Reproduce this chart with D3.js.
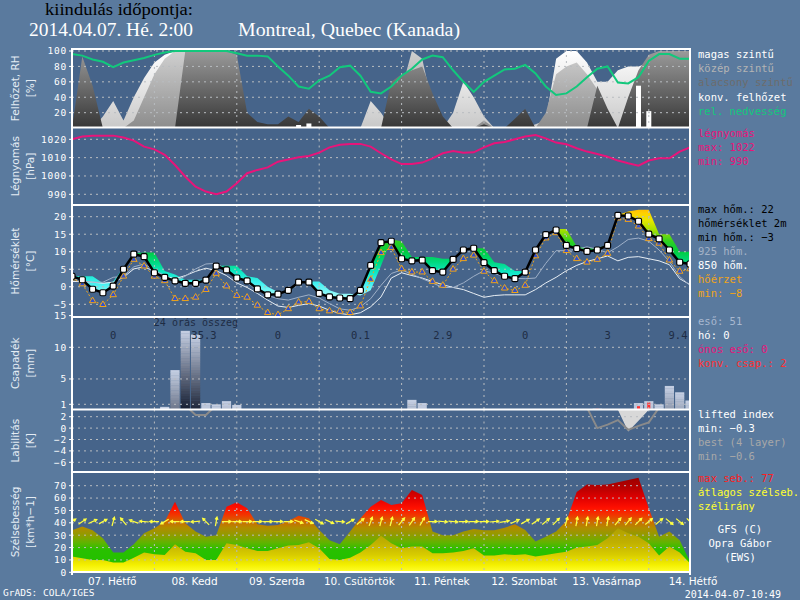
<!DOCTYPE html>
<html>
<head>
<meta charset="utf-8">
<script src="https://cdn.jsdelivr.net/npm/d3@7"></script>
<style>
  body { margin: 0; background: #5a7a9e; }
  svg { display: block; }
</style>
</head>
<body>
<svg id="chart" width="800" height="600"></svg>
<script>
// ---- data (3-hourly, from 04.07 00h) ----
const hours = d3.range(0, 181, 3);

const temp2m = [3.0,2.0,-0.7,-1.7,0.2,5.0,9.3,8.6,4.0,2.7,1.7,1.0,1.0,1.9,5.9,4.8,2.5,1.7,-0.6,-2.3,-2.1,-1.0,1.3,1.3,-1.9,-2.9,-3.2,-3.4,-1.0,6.1,12.6,13.0,
  8.0,7.4,7.6,4.6,4.2,7.8,10.5,11.0,6.9,4.6,3.0,2.3,4.2,10.5,14.9,16.2,11.8,10.9,10.1,10.5,11.8,20.4,20.2,18.7,15.0,13.7,10.5,7.0,6.5];
const tempMax = [3.1,3.0,3.0,1.0,1.5,5.5,9.5,9.8,9.8,4.5,3.5,2.0,2.0,2.0,6.0,6.0,6.0,3.0,2.5,0.0,-1.5,-1.5,1.0,1.5,1.5,-1.0,-2.0,-2.0,-2.5,-1.0,6.0,13.5,
  13.0,8.5,8.5,8.5,8.0,8.0,10.5,11.0,11.0,7.0,6.5,4.5,4.5,10.5,15.0,16.5,16.5,11.5,11.0,11.0,12.0,20.5,21.5,22.0,22.0,15.0,15.0,10.0,10.0];
const feelsLike = [2.5,0.8,-4.0,-5.1,-2.3,3.0,7.8,5.9,3.0,1.7,-3.4,-3.4,-3.0,-0.8,3.8,0.2,-2.5,-3.0,-5.3,-7.4,-8.0,-6.3,-4.4,-4.2,-6.3,-6.9,-7.0,-7.4,-5.5,2.1,9.7,11.2,
  5.1,4.2,4.2,1.5,0.4,5.0,8.0,9.0,4.4,1.7,-0.4,-1.1,0.4,8.8,13.9,15.4,10.3,8.0,7.0,7.8,9.5,19.6,19.2,17.3,13.7,12.4,7.6,4.4,5.1];
const temp925 = [2.3,1.7,1.3,1.3,2.7,3.0,5.7,6.5,4.8,3.2,1.7,3.0,5.1,6.5,6.7,4.8,3.0,1.1,-0.8,-2.5,-3.4,-3.8,-3.0,-2.3,-3.2,-4.8,-6.3,-6.7,-5.7,-3.4,0.4,3.8,
  4.8,3.6,2.3,1.1,-0.2,-0.2,1.1,3.0,4.6,3.8,2.9,2.4,2.3,2.5,6.7,10.3,10.3,10.7,11.4,10.7,9.7,11.4,13.5,13.9,13.0,10.5,7.2,2.9,0.4];
const temp850 = [1.5,1.5,1.3,1.0,1.3,2.7,5.1,5.7,4.4,3.0,2.3,3.2,4.4,5.3,4.6,3.2,1.1,-0.2,-1.9,-3.8,-5.5,-5.9,-5.3,-4.8,-5.5,-6.7,-7.6,-8.0,-7.4,-5.7,-2.9,2.5,
  4.0,3.2,2.5,1.5,0.6,-0.2,-0.8,-1.9,-3.0,-2.5,-2.3,-2.3,-2.3,-0.8,1.1,2.7,4.6,6.1,7.2,8.0,8.8,7.4,8.4,8.6,8.0,7.4,6.3,2.3,0.6];

const relHum = [96,94,89,86,79,85,88,91,95,98,100,100,100,100,100,100,97,94,94,93,80,68,54,51,62,68,79,81,68,47,45,54,
  68,77,89,94,92,75,60,47,60,68,76,77,82,71,54,43,45,54,66,77,80,59,58,66,87,96,96,90,90];
const cloudHigh = [0,0,0,15,35,10,40,65,85,95,100,100,0,0,0,0,0,0,0,0,0,0,0,0,0,0,0,0,0,35,20,0,
  0,0,0,0,0,20,60,40,15,0,0,0,0,5,10,90,100,100,85,60,60,75,80,80,85,90,100,100,100];
const cloudMid = [0,0,0,0,0,0,10,40,70,90,100,100,0,0,0,0,0,0,0,0,0,0,0,0,0,0,0,0,0,0,0,0,
  50,100,90,30,0,0,0,0,10,0,0,0,0,0,20,70,80,85,70,50,0,0,0,0,0,0,0,0,0];
const cloudLow = [0,93,55,0,0,0,0,0,0,0,0,100,100,100,100,100,95,20,8,5,5,15,8,25,15,0,0,0,0,0,0,60,
  70,75,80,45,15,0,0,0,5,0,0,12,25,0,0,0,0,0,0,55,25,0,40,75,95,100,100,100,100];
const convCloud = [0,0,0,0,0,0,0,0,0,0,0,0,0,0,0,0,0,0,0,0,0,0,4,6,0,0,0,0,0,0,0,0,
  0,0,0,0,0,0,0,0,0,0,0,0,0,0,0,0,0,0,0,0,0,0,0,55,22,0,0,0,0];

const pressure = [1020,1021.5,1022,1022,1022,1021,1019.3,1016,1014.5,1011.5,1006,999.6,994.2,991.5,990,991.5,996,1001.5,1003.3,1004.7,
  1007.8,1009,1010.2,1010.9,1012.7,1015.6,1017,1017.5,1017.5,1016,1012.4,1009,
  1006.5,1006.5,1007.3,1009.6,1012.4,1013.6,1012.7,1012.9,1015.6,1017.8,1018.5,1020,1021.5,1022.3,1020.5,1018.2,1017.3,1015.1,
  1013.3,1012,1010.5,1008.4,1006.9,1005.6,1008.4,1009.6,1009.6,1013.3,1015.6];

const precip = [0,0,0,0,0,0,0,0,0,0.6,6.4,12.6,12.0,1.2,1.0,1.5,0.9,0,0,0,0,0,0,0,0,0,0,0,0,0,0,0,
  0,1.7,1.2,0,0,0,0,0,0,0,0,0,0,0,0,0,0,0,0,0.3,0,0,0,1.2,1.5,1.0,3.9,2.9,1.6];
const convPrecip = [0,0,0,0,0,0,0,0,0,0,0,0,0,0,0,0,0,0,0,0,0,0,0,0,0,0,0,0,0,0,0,0,
  0,0,0,0,0,0,0,0,0,0,0,0,0,0,0,0,0,0,0,0.3,0,0,0,0.7,1.3,0,0,0,0];
const dailySums = ["0","35.3","0","0.1","2.9","0","3","9.4"];

const liftedIndex = [6,6,6,6,6,6,6,6,6,6,6,4,2.3,2.3,4,6,6,6,6,6,6,6,6,6,6,6,6,6,6,6,6,6,
  6,6,6,6,6,6,6,6,6,6,6,6,6,6,6,6,6,6,3.6,0,0.6,1.4,-0.3,0.4,1.0,3.6,6,6,6];
const bestLI = [6,6,6,6,6,6,6,6,6,6,6,6,6,6,6,6,6,6,6,6,6,6,6,6,6,6,6,6,6,6,6,6,
  6,6,6,6,6,6,6,6,6,6,6,6,6,6,6,6,6,6,6,6,4.5,3.2,-0.6,1.3,3.2,5,6,6,6];

const gust = [34,37,34,27.5,16,16,22.6,31.5,35.6,41,57,39.6,33,28.8,30,53,56.6,51.7,38.8,37.7,38.3,41.5,45.8,43.7,34.2,26,22.6,33,43.7,53,58.5,54.4,
  55.8,66.6,62.5,33,30,30,33,35,34,34,36,38.8,34.2,24.8,28.8,33,41.5,65,71,70.6,71,72.8,74.7,76.5,51.7,28.8,33,26,8.6];
const meanWind = [12.7,11.3,10,10,8,8,11.8,16,14.5,14,22.6,16.7,15.4,10,10,23.5,22,19.4,17.3,17.3,19.4,21.6,22,24.3,19.4,10.8,10,11.8,16,22,29.6,23.5,
  19.4,20.8,20.8,15.4,15.4,16,17.3,19.4,13.5,13.5,14.5,14,14.5,12.7,14,15.4,16.7,20,20.8,22,27.5,35.6,31.5,28.8,23.5,13.5,20.8,16,7.3];
// direction the arrow points to, compass degrees
const windDir = [55,55,65,60,15,320,290,275,270,240,270,270,265,315,10,90,90,90,90,90,90,90,110,115,120,115,95,60,50,20,15,15,
  40,35,30,90,95,95,90,90,90,85,80,65,60,55,50,45,15,10,10,10,10,40,40,45,50,50,130,130,135];

const dayLabels = ["07. Hétfő","08. Kedd","09. Szerda","10. Csütörtök","11. Péntek","12. Szombat","13. Vasárnap","14. Hétfő"];

// ---- layout ----
const svg = d3.select("#chart");
const X0 = 72, X1 = 690;
const x = d3.scaleLinear().domain([0, 180]).range([X0, X1]);
const mono = "DejaVu Sans Mono, monospace";
const sans = "DejaVu Sans, sans-serif";
const gridColor = "#b8bcc0";

svg.append("rect").attr("width", 800).attr("height", 600).attr("fill", "#5a7a9e");
svg.append("rect").attr("x", X0).attr("y", 49).attr("width", X1 - X0).attr("height", 523).attr("fill", "#46648a");

const panels = [
  { key: "cloud", top: 49, bottom: 127.5, y: d3.scaleLinear().domain([0, 100]).range([128.1, 51]), ticks: [20, 40, 60, 80, 100], title: ["Felhőzet, RH", "[%]"] },
  { key: "press", top: 127.5, bottom: 205, y: d3.scaleLinear().domain([990, 1020]).range([194.3, 139.3]), ticks: [990, 1000, 1010, 1020], title: ["Légnyomás", "[hPa]"] },
  { key: "temp", top: 205, bottom: 317, y: d3.scaleLinear().domain([-5, 20]).range([304.3, 216.7]), ticks: [-5, 0, 5, 10, 15, 20], title: ["Hőmérséklet", "[°C]"] },
  { key: "prec", top: 317, bottom: 409.5, y: d3.scaleLinear().domain([1, 10]).range([404.3, 347.3]), ticks: [1, 5, 10, 15], title: ["Csapadék", "[mm]"] },
  { key: "lab", top: 409.5, bottom: 472, y: d3.scaleLinear().domain([-6, 2]).range([462.3, 416.7]), ticks: [-6, -4, -2, 0, 2], title: ["Labilitás", "[K]"] },
  { key: "wind", top: 472, bottom: 572, y: d3.scaleLinear().domain([0, 70]).range([572.3, 485.7]), ticks: [0, 10, 20, 30, 40, 50, 60, 70], title: ["Szélsebesség", "[km*h−1]"] }
];
const P = {};
panels.forEach(p => P[p.key] = p);

const defs = svg.append("defs");
panels.forEach(p => {
  defs.append("clipPath").attr("id", "clip-" + p.key)
    .append("rect").attr("x", X0).attr("y", p.top).attr("width", X1 - X0).attr("height", p.bottom - p.top);
});

function vGrad(id, scale, stops) {
  const lo = d3.min(stops, s => s[0]), hi = d3.max(stops, s => s[0]);
  const g = defs.append("linearGradient").attr("id", id)
    .attr("gradientUnits", "userSpaceOnUse")
    .attr("x1", 0).attr("x2", 0).attr("y1", scale(lo)).attr("y2", scale(hi));
  stops.forEach(s => g.append("stop").attr("offset", (s[0] - lo) / (hi - lo)).attr("stop-color", s[1]));
}

const layers = {};
panels.forEach(p => {
  const g = svg.append("g").attr("clip-path", `url(#clip-${p.key})`);
  layers[p.key] = { fill: g.append("g"), grid: g.append("g"), line: g.append("g") };
});

// gridlines
const dayBounds = [24, 48, 72, 96, 120, 144, 168];
panels.forEach(p => {
  const gg = layers[p.key].grid;
  gg.selectAll("line.h").data(p.ticks).join("line")
    .attr("x1", X0).attr("x2", X1).attr("y1", d => p.y(d)).attr("y2", d => p.y(d))
    .attr("stroke", gridColor).attr("stroke-width", 1).attr("stroke-dasharray", "2,4");
  gg.selectAll("line.v").data(dayBounds).join("line")
    .attr("x1", d => x(d)).attr("x2", d => x(d)).attr("y1", p.top).attr("y2", p.bottom)
    .attr("stroke", gridColor).attr("stroke-width", 1).attr("stroke-dasharray", "2,4");
});

const xi = (d, i) => x(hours[i]);

// ---- clouds & RH ----
{
  const p = P.cloud, L = layers.cloud;
  vGrad("gHigh", p.y, [[0, "#c8c8c8"], [100, "#ffffff"]]);
  vGrad("gMid", p.y, [[0, "#8c8c8c"], [100, "#d0d0d0"]]);
  vGrad("gLow", p.y, [[0, "#363636"], [100, "#9a9a9a"]]);
  const area = d3.area().x(xi).y0(p.y(0)).y1(d => p.y(d));
  L.fill.append("path").attr("d", area(cloudHigh)).attr("fill", "url(#gHigh)");
  L.fill.append("path").attr("d", area(cloudMid)).attr("fill", "url(#gMid)");
  L.fill.append("path").attr("d", area(cloudLow)).attr("fill", "url(#gLow)");
  L.fill.selectAll("rect").data(convCloud.map((v, i) => ({ v, h: hours[i] })).filter(d => d.v > 0)).join("rect")
    .attr("x", d => x(d.h) - 2.5).attr("width", 5)
    .attr("y", d => p.y(d.v)).attr("height", d => p.y(0) - p.y(d.v)).attr("fill", "#ffffff");
  L.line.append("path").attr("d", d3.line().x(xi).y(d => p.y(d))(relHum))
    .attr("fill", "none").attr("stroke", "#12c87c").attr("stroke-width", 2);
}

// ---- pressure ----
{
  const p = P.press;
  layers.press.line.append("path").attr("d", d3.line().x(xi).y(d => p.y(d))(pressure))
    .attr("fill", "none").attr("stroke", "#e8147a").attr("stroke-width", 2);
}

// ---- temperature ----
{
  const p = P.temp, L = layers.temp;
  vGrad("gTemp", p.y, [[-8, "#c0ffff"], [-2, "#90f8f8"], [1, "#40f0f0"], [4, "#10e8c8"], [7, "#00d880"], [10, "#00cc40"],
    [13, "#30d020"], [16, "#a0e000"], [19, "#e8e800"], [21, "#ffd000"], [23, "#ffb000"]]);
  L.fill.append("path")
    .attr("d", d3.area().x(xi).y0((d, i) => p.y(temp2m[i])).y1(d => p.y(d))(tempMax))
    .attr("fill", "url(#gTemp)");
  const line = d3.line().x(xi).y(d => p.y(d));
  L.line.append("path").attr("d", line(temp850)).attr("fill", "none").attr("stroke", "#e8eef4").attr("stroke-width", 1);
  L.line.append("path").attr("d", line(temp925)).attr("fill", "none").attr("stroke", "#9fb0c8").attr("stroke-width", 1);
  L.line.append("path").attr("d", line(feelsLike)).attr("fill", "none").attr("stroke", "#f0a418")
    .attr("stroke-width", 1).attr("stroke-dasharray", "2,2");
  L.line.selectAll("path.tri").data(feelsLike).join("path").attr("class", "tri")
    .attr("d", d3.symbol(d3.symbolTriangle, 18))
    .attr("transform", (d, i) => `translate(${x(hours[i])},${p.y(d)})`)
    .attr("fill", "#3050d0").attr("stroke", "#f0a418").attr("stroke-width", 1);
  L.line.append("path").attr("d", line(temp2m)).attr("fill", "none").attr("stroke", "#000").attr("stroke-width", 2.5);
  L.line.selectAll("rect.mk").data(temp2m).join("rect").attr("class", "mk")
    .attr("x", (d, i) => x(hours[i]) - 3).attr("y", d => p.y(d) - 3)
    .attr("width", 6).attr("height", 6).attr("rx", 1.5)
    .attr("fill", "#fff").attr("stroke", "#000").attr("stroke-width", 1.2);
}

// ---- precipitation ----
{
  const p = P.prec, L = layers.prec;
  const shade = d3.interpolateRgb("#c6d0e4", "#1a2236");
  precip.forEach((v, i) => {
    if (v <= 0) return;
    const n = Math.max(1, Math.ceil(v / 0.4));
    for (let k = 0; k < n; k++) {
      const a = v * k / n, b = v * (k + 1) / n;
      const depth = v - (a + b) / 2;
      L.fill.append("rect")
        .attr("x", x(hours[i]) - 4.6).attr("width", 9.2)
        .attr("y", p.y(b)).attr("height", p.y(a) - p.y(b) + 0.3)
        .attr("fill", shade(Math.min(1, depth / 12)));
    }
  });
  L.fill.selectAll("rect.cv").data(convPrecip.map((v, i) => ({ v, h: hours[i] })).filter(d => d.v > 0)).join("rect").attr("class", "cv")
    .attr("x", d => x(d.h) - 1.5).attr("width", 3)
    .attr("y", d => p.y(d.v)).attr("height", d => p.y(0) - p.y(d.v)).attr("fill", "#ff3030");
  svg.append("text").attr("x", 196).attr("y", 326).attr("text-anchor", "middle")
    .attr("font-family", mono).attr("font-size", 10).attr("fill", "#1e2c44").text("24 órás összeg");
  svg.selectAll("text.dsum").data(dailySums).join("text").attr("class", "dsum")
    .attr("x", (d, k) => k === 1 ? 204 : Math.min(x(12 + 24 * k), 678)).attr("y", 339).attr("text-anchor", "middle")
    .attr("font-family", mono).attr("font-size", 10.5).attr("fill", "#1e2c44").text(d => d);
}

// ---- lability ----
{
  const p = P.lab, L = layers.lab;
  L.fill.append("path").attr("d", d3.area().x(xi).y0(p.top).y1(d => p.y(d))(bestLI)).attr("fill", "#d8d8d8");
  L.line.append("path").attr("d", d3.line().x(xi).y(d => p.y(d))(liftedIndex))
    .attr("fill", "none").attr("stroke", "#8a8a8a").attr("stroke-width", 2);
}

// ---- wind ----
{
  const p = P.wind, L = layers.wind;
  vGrad("gGust", p.y, [[0, "#20c000"], [18, "#28c000"], [24, "#60b400"], [30, "#909c00"], [36, "#b08c00"], [41, "#d06800"],
    [46, "#f03800"], [52, "#ff1000"], [60, "#e00000"], [68, "#b80000"], [80, "#900000"]]);
  vGrad("gMean", p.y, [[0, "#ffff30"], [6, "#f4f000"], [14, "#d8cc00"], [24, "#c0b000"], [36, "#b0a000"]]);
  const area = d3.area().x(xi).y0(p.y(0)).y1(d => p.y(d));
  L.fill.append("path").attr("d", area(gust)).attr("fill", "url(#gGust)");
  L.fill.append("path").attr("d", area(meanWind)).attr("fill", "url(#gMean)");
  const cy = p.y(41), len = 4.6;
  L.line.selectAll("path.arr").data(windDir).join("path").attr("class", "arr")
    .attr("d", (a, i) => {
      const r = a * Math.PI / 180, dx = Math.sin(r), dy = -Math.cos(r), cx = x(hours[i]);
      const tx = cx + dx * len, ty = cy + dy * len;
      const h1 = r + Math.PI - 0.5, h2 = r + Math.PI + 0.5;
      return `M${cx - dx * len},${cy - dy * len}L${tx},${ty}` +
        `M${tx + Math.sin(h1) * 3},${ty - Math.cos(h1) * 3}L${tx},${ty}L${tx + Math.sin(h2) * 3},${ty - Math.cos(h2) * 3}`;
    })
    .attr("fill", "none").attr("stroke", "#ffff40").attr("stroke-width", 1.2);
}

// ---- frame, axes ----
[49, 127.5, 205, 317, 409.5, 472, 572].forEach(yy => {
  svg.append("line").attr("x1", X0).attr("x2", X1).attr("y1", yy).attr("y2", yy).attr("stroke", "#fff").attr("stroke-width", 2);
});
svg.append("line").attr("x1", X0).attr("x2", X0).attr("y1", 48).attr("y2", 575).attr("stroke", "#fff").attr("stroke-width", 2);
svg.append("line").attr("x1", X1).attr("x2", X1).attr("y1", 48).attr("y2", 575).attr("stroke", "#fff").attr("stroke-width", 2);

panels.forEach(p => {
  const g = svg.append("g");
  g.selectAll("text").data(p.ticks).join("text")
    .attr("x", 67).attr("y", d => p.y(d)).attr("dy", "0.36em").attr("text-anchor", "end")
    .attr("font-family", mono).attr("font-size", 9.5).attr("letter-spacing", 0.8).attr("fill", "#fff")
    .text(d => String(d).replace("-", "−"));
  g.selectAll("line").data(p.ticks).join("line")
    .attr("x1", 69).attr("x2", 72).attr("y1", d => p.y(d)).attr("y2", d => p.y(d)).attr("stroke", "#fff");
  const cy = (p.top + p.bottom) / 2;
  p.title.forEach((t, k) => {
    svg.append("text").attr("transform", `translate(${19 + k * 15},${cy}) rotate(-90)`)
      .attr("text-anchor", "middle").attr("font-family", sans).attr("font-size", 10.5).attr("fill", "#e4ecf4").text(t);
  });
});

svg.selectAll("text.day").data(dayLabels).join("text").attr("class", "day")
  .attr("x", (d, k) => x(12 + 24 * k) + (k === 7 ? 3 : -1)).attr("y", 585).attr("text-anchor", "middle")
  .attr("font-family", sans).attr("font-size", 10.5).attr("fill", "#fff").text(d => d);

// ---- header ----
const serif = "Liberation Serif, DejaVu Serif, serif";
svg.append("text").attr("x", 45).attr("y", 15).attr("font-family", serif).attr("font-size", 16)
  .attr("textLength", 148).attr("lengthAdjust", "spacingAndGlyphs").attr("fill", "#000").text("kiindulás időpontja:");
svg.append("text").attr("x", 29).attr("y", 36).attr("font-family", serif).attr("font-size", 18.5)
  .attr("textLength", 164).attr("lengthAdjust", "spacingAndGlyphs").attr("fill", "#fff").text("2014.04.07. Hé. 2:00");
svg.append("text").attr("x", 238).attr("y", 36).attr("font-family", serif).attr("font-size", 18.5)
  .attr("textLength", 222).attr("lengthAdjust", "spacingAndGlyphs").attr("fill", "#fff").text("Montreal, Quebec (Kanada)");

// ---- legend ----
const legend = [
  ["magas szintű", "#ffffff", 58], ["közép szintű", "#b4b4b4", 72], ["alacsony szintű", "#6c6c6c", 86],
  ["konv. felhőzet", "#ffffff", 101], ["rel. nedvesség", "#12c87c", 115],
  ["légnyomás", "#e8147a", 137], ["max: 1022", "#e8147a", 151], ["min: 990", "#e8147a", 165],
  ["max hőm.: 22", "#000000", 213], ["hőmérséklet 2m", "#000000", 227], ["min hőm.: −3", "#000000", 241],
  ["925 hőm.", "#a4b2c6", 255], ["850 hőm.", "#ffffff", 269], ["hőérzet", "#f0a418", 283], ["min: −8", "#f0a418", 297],
  ["eső: 51", "#a8b8d0", 325], ["hó: 0", "#ffffff", 339], ["ónos eső: 0", "#e8147a", 353], ["konv. csap.: 2", "#ff3030", 367],
  ["lifted index", "#ffffff", 418], ["min: −0.3", "#ffffff", 432], ["best (4 layer)", "#a8a8a8", 446], ["min: −0.6", "#a8a8a8", 460],
  ["max seb.: 77", "#ff2020", 482], ["átlagos szélseb.", "#ffff30", 496], ["szélirány", "#ffff30", 510]
];
svg.selectAll("text.leg").data(legend).join("text").attr("class", "leg")
  .attr("x", 698).attr("y", d => d[2]).attr("font-family", mono).attr("font-size", 10.5)
  .attr("fill", d => d[1]).text(d => d[0]);
[["GFS (C)", 533], ["Opra Gábor", 547], ["(EWS)", 561]].forEach(d => {
  svg.append("text").attr("x", 740).attr("y", d[1]).attr("text-anchor", "middle")
    .attr("font-family", mono).attr("font-size", 10.5).attr("fill", "#fff").text(d[0]);
});
svg.append("text").attr("x", 3).attr("y", 596).attr("font-family", mono).attr("font-size", 9.5).attr("fill", "#fff").text("GrADS: COLA/IGES");
svg.append("text").attr("x", 781).attr("y", 598).attr("text-anchor", "end").attr("font-family", mono).attr("font-size", 10)
  .attr("fill", "#fff").text("2014-04-07-10:49");
</script>
</body>
</html>
